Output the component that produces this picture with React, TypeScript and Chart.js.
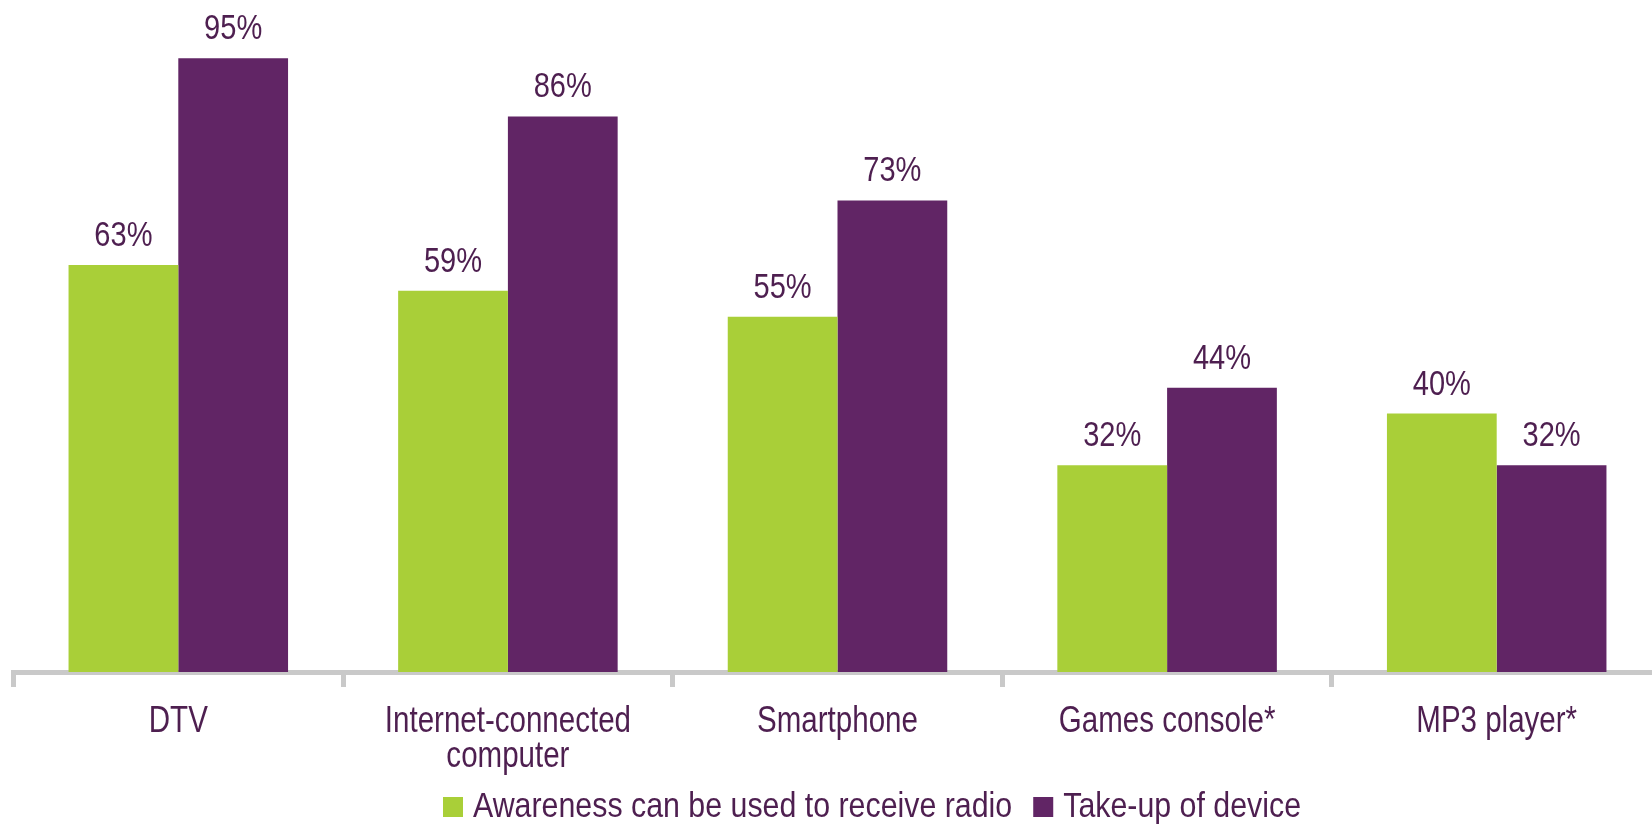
import React, { useEffect, useRef } from "react";
import { Chart, registerables } from "chart.js";

Chart.register(...registerables);

// ---- data ----
const categories: string[][] = [
  ["DTV"],
  ["Internet-connected", "computer"],
  ["Smartphone"],
  ["Games console*"],
  ["MP3 player*"],
];
const awareness: number[] = [63, 59, 55, 32, 40];
const takeUp: number[] = [95, 86, 73, 44, 32];
const seriesNames: string[] = [
  "Awareness can be used to receive radio",
  "Take-up of device",
];
const seriesColors: string[] = ["#A9CF38", "#612565"];

const TEXT = "#4E1F50";
const FONT = '"Liberation Sans Narrow", "Liberation Sans", Arial, sans-serif';
const AXIS = "#C9C9C9";

function narrowText(ctx: CanvasRenderingContext2D, text: string, x: number, y: number, sx: number, align: CanvasTextAlign) {
  ctx.save();
  ctx.translate(x, y);
  ctx.scale(sx, 1);
  ctx.textAlign = align;
  ctx.fillText(text, 0, 0);
  ctx.restore();
}

const textPlugin = {
  id: "narrowTexts",
  afterDraw(chart: any) {
    const ctx: CanvasRenderingContext2D = chart.ctx;
    ctx.save();
    ctx.fillStyle = TEXT;
    ctx.textBaseline = "alphabetic";

    // value labels above the bars
    ctx.font = `35px ${FONT}`;
    chart.data.datasets.forEach((ds: any, i: number) => {
      const meta = chart.getDatasetMeta(i);
      meta.data.forEach((bar: any, j: number) => {
        narrowText(ctx, `${ds.data[j]}%`, bar.x, bar.y - 19, 0.83, "center");
      });
    });

    // category labels under the axis
    const xs = chart.scales.x;
    ctx.font = `36px ${FONT}`;
    (chart.data.labels as string[][]).forEach((lines, i) => {
      const x = xs.getPixelForValue(i);
      lines.forEach((ln, k) => {
        narrowText(ctx, ln, x, xs.top + 59.5 + k * 35, 0.82, "center");
      });
    });

    // legend
    ctx.font = `35px ${FONT}`;
    const sxL = 0.867;
    let lx = 443;
    const baseY = 817;
    chart.data.datasets.forEach((ds: any) => {
      ctx.fillStyle = ds.backgroundColor;
      ctx.fillRect(lx, 797, 20, 20);
      lx += 30;
      ctx.fillStyle = TEXT;
      narrowText(ctx, ds.label, lx, baseY, sxL, "left");
      lx += ctx.measureText(ds.label).width * sxL + 21;
    });
    ctx.restore();
  },
};

export default function App() {
  const ref = useRef<HTMLCanvasElement | null>(null);

  useEffect(() => {
    if (!ref.current) return;
    const chart = new Chart(ref.current, {
      type: "bar",
      data: {
        labels: categories,
        datasets: [
          {
            label: seriesNames[0],
            data: awareness,
            backgroundColor: seriesColors[0],
            categoryPercentage: 0.666,
            barPercentage: 1.0,
          },
          {
            label: seriesNames[1],
            data: takeUp,
            backgroundColor: seriesColors[1],
            categoryPercentage: 0.666,
            barPercentage: 1.0,
          },
        ],
      },
      options: {
        responsive: false,
        animation: false,
        layout: { padding: { left: 13.5, right: 0.5, top: 26, bottom: 0 } },
        plugins: {
          legend: { display: false },
          tooltip: { enabled: false },
        },
        scales: {
          y: {
            display: false,
            min: 0,
            max: 100,
          },
          x: {
            afterFit: (scale: any) => {
              scale.height = 826 - 672;
            },
            border: { display: true, color: AXIS, width: 5 },
            grid: {
              display: true,
              offset: true,
              drawOnChartArea: false,
              drawTicks: true,
              tickLength: 15,
              tickWidth: 5,
              tickColor: AXIS,
              color: AXIS,
              lineWidth: 5,
            },
            ticks: {
              color: "rgba(0,0,0,0)",
              padding: 18,
              font: { family: FONT, size: 36, lineHeight: 0.97 },
              maxRotation: 0,
              autoSkip: false,
            },
          },
        },
      },
      plugins: [textPlugin],
    });
    return () => chart.destroy();
  }, []);

  return (
    <div
      style={{
        position: "absolute",
        left: 0,
        top: 0,
        width: 1652,
        height: 826,
        overflow: "hidden",
        background: "#fff",
      }}
    >
      <canvas ref={ref} width={1662} height={826} style={{ display: "block" }} />
    </div>
  );
}
